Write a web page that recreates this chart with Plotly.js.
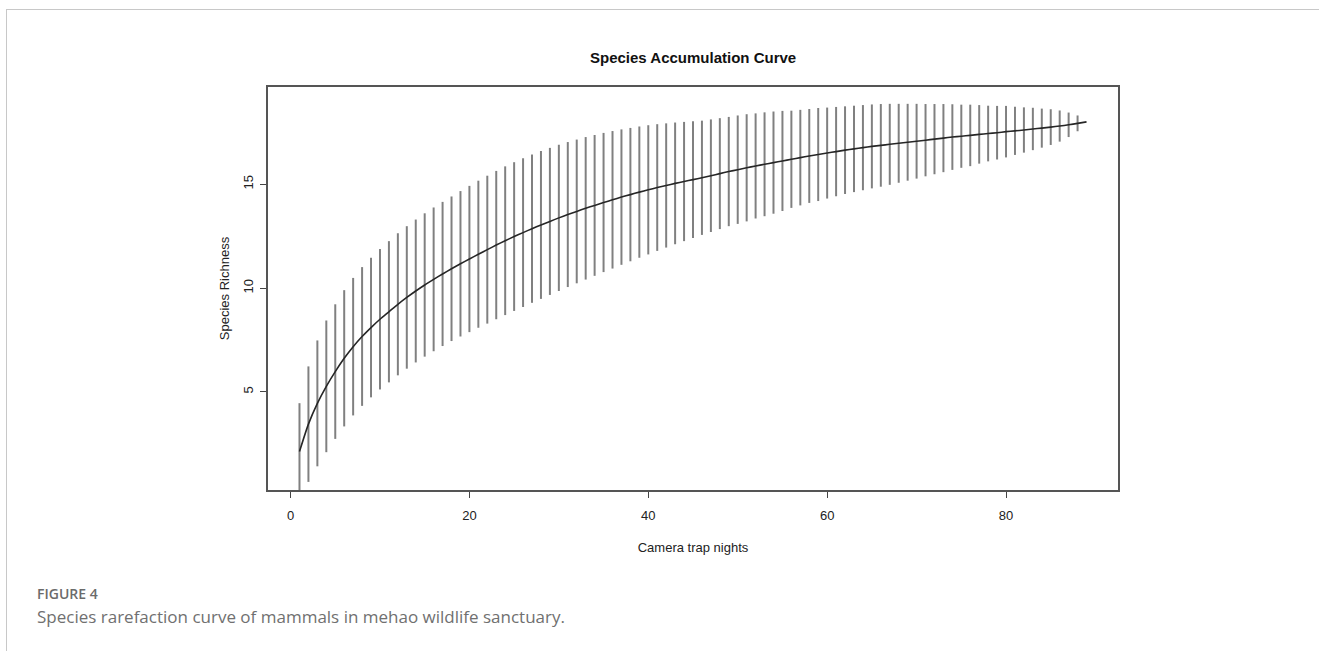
<!DOCTYPE html>
<html>
<head>
<meta charset="utf-8">
<script src="https://cdn.plot.ly/plotly-3.0.1.min.js"></script>
<style>
  html, body { margin: 0; padding: 0; background: #ffffff; }
  #wrap { position: relative; width: 1319px; height: 651px; overflow: hidden; background: #fff; }
  #frame { position: absolute; left: 6px; top: 9px; right: -2px; bottom: -2px;
           border-left: 1px solid #c8c8c8; border-top: 1px solid #c8c8c8; }
  #chart { position: absolute; left: 0; top: 0; width: 1319px; height: 651px; }
</style>
</head>
<body>
<div id="wrap">
  <div id="frame"></div>
  <div id="chart"></div>
</div>
<script>
// Camera trap nights (sites sampled)
const nights = [1,2,3,4,5,6,7,8,9,10,11,12,13,14,15,16,17,18,19,20,
  21,22,23,24,25,26,27,28,29,30,31,32,33,34,35,36,37,38,39,40,
  41,42,43,44,45,46,47,48,49,50,51,52,53,54,55,56,57,58,59,60,
  61,62,63,64,65,66,67,68,69,70,71,72,73,74,75,76,77,78,79,80,
  81,82,83,84,85,86,87,88,89];

// Mean species richness
const richness = [2.13,3.45,4.45,5.27,5.98,6.62,7.18,7.67,8.10,8.50,
  8.86,9.22,9.55,9.86,10.15,10.42,10.68,10.93,11.17,11.40,
  11.63,11.85,12.07,12.28,12.48,12.67,12.86,13.04,13.21,13.38,
  13.54,13.69,13.84,13.98,14.12,14.25,14.38,14.50,14.62,14.73,
  14.84,14.94,15.04,15.13,15.22,15.31,15.41,15.51,15.61,15.70,
  15.79,15.88,15.96,16.04,16.12,16.20,16.28,16.36,16.43,16.50,
  16.57,16.64,16.70,16.76,16.82,16.87,16.92,16.97,17.02,17.07,
  17.12,17.17,17.22,17.27,17.31,17.35,17.40,17.44,17.48,17.53,
  17.57,17.61,17.66,17.70,17.75,17.80,17.86,17.93,18.00];

// Half-length of each confidence bar (2 x sd)
const ciHalf = [2.33,2.78,3.03,3.17,3.24,3.28,3.31,3.34,3.36,3.38,
  3.40,3.42,3.43,3.44,3.45,3.46,3.47,3.48,3.50,3.52,
  3.54,3.56,3.57,3.58,3.58,3.58,3.57,3.56,3.54,3.52,
  3.49,3.46,3.43,3.39,3.35,3.31,3.26,3.21,3.16,3.11,
  3.05,2.99,2.93,2.87,2.81,2.75,2.71,2.67,2.63,2.61,
  2.58,2.53,2.50,2.46,2.41,2.34,2.30,2.26,2.24,2.19,
  2.15,2.11,2.08,2.05,2.02,1.99,1.95,1.90,1.85,1.80,
  1.74,1.69,1.64,1.58,1.52,1.48,1.41,1.34,1.29,1.24,
  1.16,1.09,1.02,0.94,0.86,0.75,0.59,0.38,0.00];

const xTicks = [0, 20, 40, 60, 80];
const yTicks = [5, 10, 15];

const narrow = '"Liberation Sans Narrow", "Arial Narrow", "Liberation Sans", Arial, sans-serif';
const sans = '"Liberation Sans", Arial, sans-serif';

const traces = [
  {
    x: nights, y: richness, type: 'scatter', mode: 'markers',
    marker: { size: 1, opacity: 0 },
    error_y: { type: 'data', array: ciHalf, symmetric: true, width: 0, thickness: 2, color: '#808080' },
    hoverinfo: 'skip', showlegend: false
  },
  {
    x: nights, y: richness, type: 'scatter', mode: 'lines',
    line: { color: '#262626', width: 1.6, shape: 'spline', smoothing: 0.6 },
    showlegend: false
  }
];

const layout = {
  width: 1319, height: 651,
  margin: { l: 268, r: 201, t: 87, b: 161 },
  paper_bgcolor: 'rgba(0,0,0,0)',
  plot_bgcolor: '#ffffff',
  showlegend: false,
  xaxis: {
    range: [-2.52, 92.52],
    tickvals: xTicks, ticktext: xTicks.map(String),
    ticks: 'outside', ticklen: 6, tickwidth: 1, tickcolor: '#444',
    ticklabelstandoff: 7,
    showgrid: false, zeroline: false,
    showline: true, linecolor: '#555', linewidth: 1.6, mirror: true,
    tickfont: { family: narrow, size: 13, color: '#222' },
    title: { text: 'Camera trap nights', font: { family: narrow, size: 13, color: '#222' }, standoff: 20 }
  },
  yaxis: {
    range: [0.28, 19.68],
    tickvals: yTicks, ticktext: yTicks.map(String),
    tickangle: -90,
    ticks: 'outside', ticklen: 6, tickwidth: 1, tickcolor: '#444',
    ticklabelstandoff: 2,
    showgrid: false, zeroline: false,
    showline: true, linecolor: '#555', linewidth: 1.6, mirror: true,
    tickfont: { family: sans, size: 13, color: '#222' },
    title: { text: 'Species Richness', font: { family: sans, size: 13, color: '#222' }, standoff: 8 }
  },
  annotations: [
    { text: '<b>Species Accumulation Curve</b>', xref: 'paper', yref: 'paper',
      x: 0.5, y: 1, yshift: 30, xanchor: 'center', yanchor: 'middle', showarrow: false,
      font: { family: narrow, size: 15, color: '#111' } },
    { text: 'FIGURE 4', xref: 'paper', yref: 'paper',
      x: -0.274, y: -0.258, xanchor: 'left', yanchor: 'middle', showarrow: false,
      font: { family: '"Open Sans", "Noto Sans", sans-serif', size: 14, color: '#6b6b6b', weight: 600 } },
    { text: 'Species rarefaction curve of mammals in mehao wildlife sanctuary.', xref: 'paper', yref: 'paper',
      x: -0.274, y: -0.315, xanchor: 'left', yanchor: 'middle', showarrow: false,
      font: { family: '"Open Sans", "Noto Sans", sans-serif', size: 17, color: '#707070' } }
  ]
};

Plotly.newPlot('chart', traces, layout, { staticPlot: true, displayModeBar: false });
</script>
</body>
</html>
